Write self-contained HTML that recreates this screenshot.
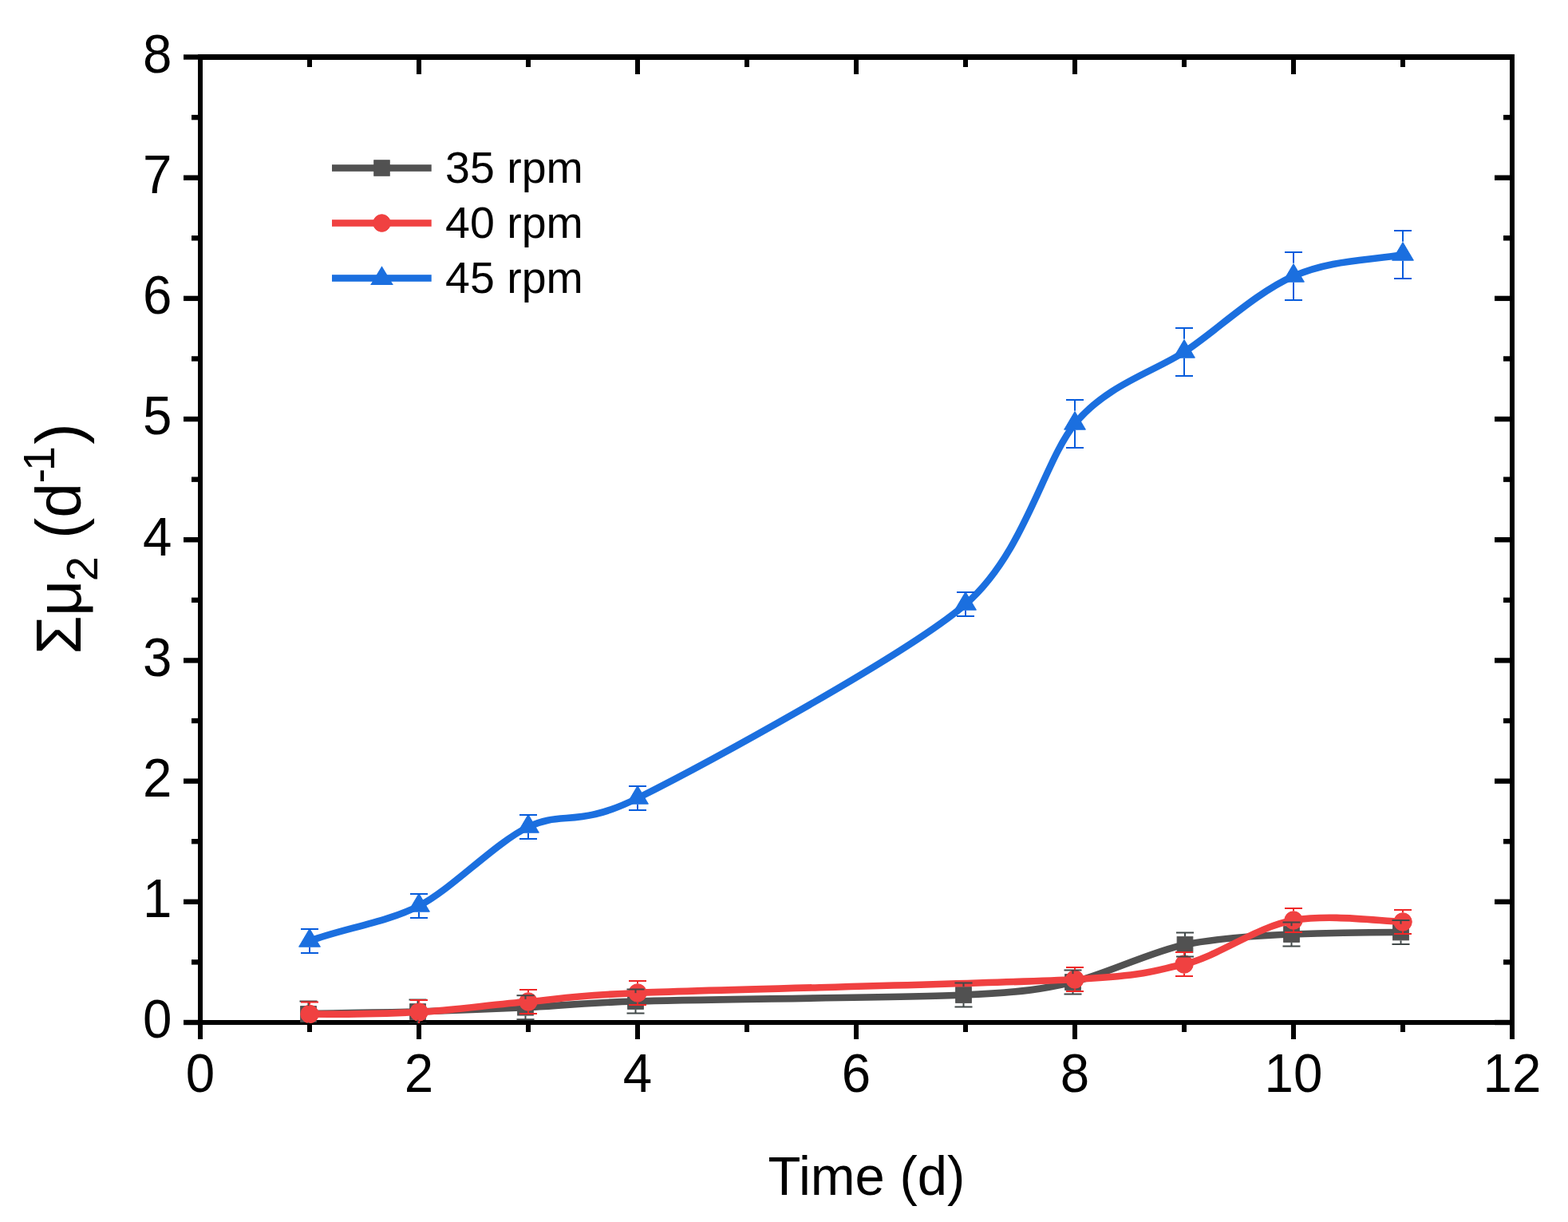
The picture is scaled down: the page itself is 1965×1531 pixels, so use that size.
<!DOCTYPE html>
<html><head><meta charset="utf-8"><title>Chart</title>
<style>html,body{margin:0;padding:0;background:#fff;width:1965px;height:1531px;overflow:hidden}svg{display:block}</style>
</head><body>
<svg width="1965" height="1531" viewBox="0 0 1965 1531"><rect x="0" y="0" width="1965" height="1531" fill="#fff"/>
<rect x="248" y="68" width="6" height="1216" fill="#000"/>
<rect x="1892" y="68" width="6" height="1216" fill="#000"/>
<rect x="248" y="68" width="1650" height="7" fill="#000"/>
<rect x="248" y="1278" width="1650" height="6" fill="#000"/>
<rect x="230" y="1277.80" width="18" height="6.4" fill="#000"/>
<rect x="1873" y="1277.80" width="19" height="6.4" fill="#000"/>
<rect x="240" y="1202.21" width="8" height="6.4" fill="#000"/>
<rect x="1884" y="1202.21" width="8" height="6.4" fill="#000"/>
<rect x="230" y="1126.61" width="18" height="6.4" fill="#000"/>
<rect x="1873" y="1126.61" width="19" height="6.4" fill="#000"/>
<rect x="240" y="1051.02" width="8" height="6.4" fill="#000"/>
<rect x="1884" y="1051.02" width="8" height="6.4" fill="#000"/>
<rect x="230" y="975.42" width="18" height="6.4" fill="#000"/>
<rect x="1873" y="975.42" width="19" height="6.4" fill="#000"/>
<rect x="240" y="899.83" width="8" height="6.4" fill="#000"/>
<rect x="1884" y="899.83" width="8" height="6.4" fill="#000"/>
<rect x="230" y="824.24" width="18" height="6.4" fill="#000"/>
<rect x="1873" y="824.24" width="19" height="6.4" fill="#000"/>
<rect x="240" y="748.64" width="8" height="6.4" fill="#000"/>
<rect x="1884" y="748.64" width="8" height="6.4" fill="#000"/>
<rect x="230" y="673.05" width="18" height="6.4" fill="#000"/>
<rect x="1873" y="673.05" width="19" height="6.4" fill="#000"/>
<rect x="240" y="597.46" width="8" height="6.4" fill="#000"/>
<rect x="1884" y="597.46" width="8" height="6.4" fill="#000"/>
<rect x="230" y="521.86" width="18" height="6.4" fill="#000"/>
<rect x="1873" y="521.86" width="19" height="6.4" fill="#000"/>
<rect x="240" y="446.27" width="8" height="6.4" fill="#000"/>
<rect x="1884" y="446.27" width="8" height="6.4" fill="#000"/>
<rect x="230" y="370.68" width="18" height="6.4" fill="#000"/>
<rect x="1873" y="370.68" width="19" height="6.4" fill="#000"/>
<rect x="240" y="295.08" width="8" height="6.4" fill="#000"/>
<rect x="1884" y="295.08" width="8" height="6.4" fill="#000"/>
<rect x="230" y="219.49" width="18" height="6.4" fill="#000"/>
<rect x="1873" y="219.49" width="19" height="6.4" fill="#000"/>
<rect x="240" y="143.89" width="8" height="6.4" fill="#000"/>
<rect x="1884" y="143.89" width="8" height="6.4" fill="#000"/>
<rect x="230" y="68.30" width="18" height="6.4" fill="#000"/>
<rect x="1873" y="68.30" width="19" height="6.4" fill="#000"/>
<rect x="248.00" y="1284" width="6" height="18" fill="#000"/>
<rect x="248.00" y="75" width="6" height="18" fill="#000"/>
<rect x="385.00" y="1284" width="6" height="9" fill="#000"/>
<rect x="385.00" y="75" width="6" height="9" fill="#000"/>
<rect x="522.00" y="1284" width="6" height="18" fill="#000"/>
<rect x="522.00" y="75" width="6" height="18" fill="#000"/>
<rect x="659.00" y="1284" width="6" height="9" fill="#000"/>
<rect x="659.00" y="75" width="6" height="9" fill="#000"/>
<rect x="796.00" y="1284" width="6" height="18" fill="#000"/>
<rect x="796.00" y="75" width="6" height="18" fill="#000"/>
<rect x="933.00" y="1284" width="6" height="9" fill="#000"/>
<rect x="933.00" y="75" width="6" height="9" fill="#000"/>
<rect x="1070.00" y="1284" width="6" height="18" fill="#000"/>
<rect x="1070.00" y="75" width="6" height="18" fill="#000"/>
<rect x="1207.00" y="1284" width="6" height="9" fill="#000"/>
<rect x="1207.00" y="75" width="6" height="9" fill="#000"/>
<rect x="1344.00" y="1284" width="6" height="18" fill="#000"/>
<rect x="1344.00" y="75" width="6" height="18" fill="#000"/>
<rect x="1481.00" y="1284" width="6" height="9" fill="#000"/>
<rect x="1481.00" y="75" width="6" height="9" fill="#000"/>
<rect x="1618.00" y="1284" width="6" height="18" fill="#000"/>
<rect x="1618.00" y="75" width="6" height="18" fill="#000"/>
<rect x="1755.00" y="1284" width="6" height="9" fill="#000"/>
<rect x="1755.00" y="75" width="6" height="9" fill="#000"/>
<rect x="1892.00" y="1284" width="6" height="18" fill="#000"/>
<rect x="1892.00" y="75" width="6" height="18" fill="#000"/>
<text transform="translate(215.4,1300.40) scale(1,1.053)" font-family="Liberation Sans, Arial, sans-serif" font-size="65.5" text-anchor="end">0</text>
<text transform="translate(215.4,1149.21) scale(1,1.053)" font-family="Liberation Sans, Arial, sans-serif" font-size="65.5" text-anchor="end">1</text>
<text transform="translate(215.4,998.02) scale(1,1.053)" font-family="Liberation Sans, Arial, sans-serif" font-size="65.5" text-anchor="end">2</text>
<text transform="translate(215.4,846.84) scale(1,1.053)" font-family="Liberation Sans, Arial, sans-serif" font-size="65.5" text-anchor="end">3</text>
<text transform="translate(215.4,695.65) scale(1,1.053)" font-family="Liberation Sans, Arial, sans-serif" font-size="65.5" text-anchor="end">4</text>
<text transform="translate(215.4,544.46) scale(1,1.053)" font-family="Liberation Sans, Arial, sans-serif" font-size="65.5" text-anchor="end">5</text>
<text transform="translate(215.4,393.27) scale(1,1.053)" font-family="Liberation Sans, Arial, sans-serif" font-size="65.5" text-anchor="end">6</text>
<text transform="translate(215.4,242.09) scale(1,1.053)" font-family="Liberation Sans, Arial, sans-serif" font-size="65.5" text-anchor="end">7</text>
<text transform="translate(215.4,90.90) scale(1,1.053)" font-family="Liberation Sans, Arial, sans-serif" font-size="65.5" text-anchor="end">8</text>
<text transform="translate(251.00,1368) scale(1,1.053)" font-family="Liberation Sans, Arial, sans-serif" font-size="65.5" text-anchor="middle">0</text>
<text transform="translate(525.00,1368) scale(1,1.053)" font-family="Liberation Sans, Arial, sans-serif" font-size="65.5" text-anchor="middle">2</text>
<text transform="translate(799.00,1368) scale(1,1.053)" font-family="Liberation Sans, Arial, sans-serif" font-size="65.5" text-anchor="middle">4</text>
<text transform="translate(1073.00,1368) scale(1,1.053)" font-family="Liberation Sans, Arial, sans-serif" font-size="65.5" text-anchor="middle">6</text>
<text transform="translate(1347.00,1368) scale(1,1.053)" font-family="Liberation Sans, Arial, sans-serif" font-size="65.5" text-anchor="middle">8</text>
<text transform="translate(1621.00,1368) scale(1,1.053)" font-family="Liberation Sans, Arial, sans-serif" font-size="65.5" text-anchor="middle">10</text>
<text transform="translate(1895.00,1368) scale(1,1.053)" font-family="Liberation Sans, Arial, sans-serif" font-size="65.5" text-anchor="middle">12</text>
<text transform="translate(962.5,1496.9) scale(1,1.031)" font-family="Liberation Sans, Arial, sans-serif" font-size="67">Time (d)</text>
<text transform="rotate(-90)" font-family="Liberation Sans, Arial, sans-serif"><tspan x="-819.93" y="100.90" font-size="79.0">Σ</tspan><tspan x="-771.97" y="100.90" font-size="79.0">μ</tspan><tspan x="-728.13" y="122.20" font-size="56.0">2</tspan><tspan font-size="79.0"> </tspan><tspan x="-675.01" y="100.90" font-size="79.0">(</tspan><tspan x="-648.83" y="100.90" font-size="79.0">d</tspan><tspan x="-605.54" y="67.90" font-size="56.0">-</tspan><tspan x="-590.32" y="67.90" font-size="56.0">1</tspan><tspan x="-556.66" y="100.90" font-size="79.0">)</tspan></text>
<defs><clipPath id="cp"><rect x="251" y="71.5" width="1644" height="1210.5"/></clipPath></defs>
<g clip-path="url(#cp)">
<path d="M386.50,1270.50 C424.98,1268.72 485.11,1268.74 523.50,1267.50 C561.89,1266.26 619.75,1263.83 658.50,1262.20 C697.25,1260.57 719.83,1256.96 796.50,1254.50 C873.17,1252.04 1130.27,1249.98 1207.50,1246.50 C1284.73,1243.02 1307.68,1238.98 1344.50,1230.50 C1381.32,1222.02 1445.24,1191.28 1485.00,1183.50 C1524.76,1175.72 1579.92,1172.00 1618.50,1170.50 C1657.08,1169.00 1716.83,1167.94 1755.50,1168.00" fill="none" stroke="#515151" stroke-width="8.6"/>
<rect x="376.65" y="1260.65" width="19.70" height="19.70" fill="#515151" stroke="#515151" stroke-width="1"/>
<rect x="513.65" y="1257.65" width="19.70" height="19.70" fill="#515151" stroke="#515151" stroke-width="1"/>
<rect x="648.65" y="1252.35" width="19.70" height="19.70" fill="#515151" stroke="#515151" stroke-width="1"/>
<rect x="786.65" y="1244.65" width="19.70" height="19.70" fill="#515151" stroke="#515151" stroke-width="1"/>
<rect x="1197.65" y="1236.65" width="19.70" height="19.70" fill="#515151" stroke="#515151" stroke-width="1"/>
<rect x="1334.65" y="1220.65" width="19.70" height="19.70" fill="#515151" stroke="#515151" stroke-width="1"/>
<rect x="1475.15" y="1173.65" width="19.70" height="19.70" fill="#515151" stroke="#515151" stroke-width="1"/>
<rect x="1608.65" y="1160.65" width="19.70" height="19.70" fill="#515151" stroke="#515151" stroke-width="1"/>
<rect x="1745.65" y="1158.15" width="19.70" height="19.70" fill="#515151" stroke="#515151" stroke-width="1"/>
<path d="M388.00,1270.50 C427.45,1271.00 485.03,1269.77 525.00,1268.00 C564.97,1266.23 622.11,1257.75 662.00,1255.00 C701.89,1252.25 701.04,1248.23 799.00,1244.00 C896.96,1239.77 1250.41,1232.38 1347.00,1227.00 C1443.59,1221.62 1445.15,1215.90 1484.00,1208.00 C1522.85,1200.10 1575.94,1160.30 1621.00,1153.00 C1666.06,1145.70 1718.92,1152.98 1758.00,1155.00" fill="none" stroke="#F04141" stroke-width="8.6"/>
<circle cx="388.00" cy="1270.50" r="11.25" fill="#F04141" stroke="#F04141" stroke-width="1"/>
<circle cx="525.00" cy="1268.00" r="11.25" fill="#F04141" stroke="#F04141" stroke-width="1"/>
<circle cx="662.00" cy="1255.00" r="11.25" fill="#F04141" stroke="#F04141" stroke-width="1"/>
<circle cx="799.00" cy="1244.00" r="11.25" fill="#F04141" stroke="#F04141" stroke-width="1"/>
<circle cx="1347.00" cy="1227.00" r="11.25" fill="#F04141" stroke="#F04141" stroke-width="1"/>
<circle cx="1484.00" cy="1208.00" r="11.25" fill="#F04141" stroke="#F04141" stroke-width="1"/>
<circle cx="1621.00" cy="1153.00" r="11.25" fill="#F04141" stroke="#F04141" stroke-width="1"/>
<circle cx="1758.00" cy="1155.00" r="11.25" fill="#F04141" stroke="#F04141" stroke-width="1"/>
<path d="M388.00,1179.00 C428.58,1163.72 484.49,1155.57 525.00,1135.00 C565.51,1114.43 619.76,1056.63 662.00,1036.00 C704.24,1015.37 723.82,1037.57 799.00,1000.00 C874.18,962.43 1135.85,821.22 1210.00,757.00 C1284.15,692.78 1307.40,579.49 1347.00,531.00 C1386.60,482.51 1445.29,466.08 1484.00,441.00 C1522.71,415.92 1573.30,366.77 1621.00,346.00 C1668.70,325.23 1714.67,326.61 1758.00,319.00" fill="none" stroke="#1B6FDF" stroke-width="8.6"/>
<polygon points="388.00,1163.50 401.40,1186.20 374.60,1186.20" fill="#1B6FDF" stroke="#1B6FDF" stroke-width="1"/>
<polygon points="525.00,1119.50 538.40,1142.20 511.60,1142.20" fill="#1B6FDF" stroke="#1B6FDF" stroke-width="1"/>
<polygon points="662.00,1020.50 675.40,1043.20 648.60,1043.20" fill="#1B6FDF" stroke="#1B6FDF" stroke-width="1"/>
<polygon points="799.00,984.50 812.40,1007.20 785.60,1007.20" fill="#1B6FDF" stroke="#1B6FDF" stroke-width="1"/>
<polygon points="1210.00,741.50 1223.40,764.20 1196.60,764.20" fill="#1B6FDF" stroke="#1B6FDF" stroke-width="1"/>
<polygon points="1347.00,515.50 1360.40,538.20 1333.60,538.20" fill="#1B6FDF" stroke="#1B6FDF" stroke-width="1"/>
<polygon points="1484.00,425.50 1497.40,448.20 1470.60,448.20" fill="#1B6FDF" stroke="#1B6FDF" stroke-width="1"/>
<polygon points="1621.00,330.50 1634.40,353.20 1607.60,353.20" fill="#1B6FDF" stroke="#1B6FDF" stroke-width="1"/>
<polygon points="1758.00,303.50 1771.40,326.20 1744.60,326.20" fill="#1B6FDF" stroke="#1B6FDF" stroke-width="1"/>
<rect x="385.50" y="1254.50" width="2" height="5.65" fill="#414949"/><rect x="385.50" y="1280.85" width="2" height="5.65" fill="#414949"/><rect x="375.50" y="1253.50" width="22" height="2" fill="#414949"/><rect x="375.50" y="1285.50" width="22" height="2" fill="#414949"/>
<rect x="522.50" y="1252.50" width="2" height="4.65" fill="#414949"/><rect x="522.50" y="1277.85" width="2" height="4.65" fill="#414949"/><rect x="512.50" y="1251.50" width="22" height="2" fill="#414949"/><rect x="512.50" y="1281.50" width="22" height="2" fill="#414949"/>
<rect x="657.50" y="1247.20" width="2" height="4.65" fill="#414949"/><rect x="657.50" y="1272.55" width="2" height="4.65" fill="#414949"/><rect x="647.50" y="1246.20" width="22" height="2" fill="#414949"/><rect x="647.50" y="1276.20" width="22" height="2" fill="#414949"/>
<rect x="795.50" y="1239.50" width="2" height="4.65" fill="#414949"/><rect x="795.50" y="1264.85" width="2" height="4.65" fill="#414949"/><rect x="785.50" y="1238.50" width="22" height="2" fill="#414949"/><rect x="785.50" y="1268.50" width="22" height="2" fill="#414949"/>
<rect x="1206.50" y="1231.50" width="2" height="4.65" fill="#414949"/><rect x="1206.50" y="1256.85" width="2" height="4.65" fill="#414949"/><rect x="1196.50" y="1230.50" width="22" height="2" fill="#414949"/><rect x="1196.50" y="1260.50" width="22" height="2" fill="#414949"/>
<rect x="1343.50" y="1215.50" width="2" height="4.65" fill="#414949"/><rect x="1343.50" y="1240.85" width="2" height="4.65" fill="#414949"/><rect x="1333.50" y="1214.50" width="22" height="2" fill="#414949"/><rect x="1333.50" y="1244.50" width="22" height="2" fill="#414949"/>
<rect x="1484.00" y="1168.50" width="2" height="4.65" fill="#414949"/><rect x="1484.00" y="1193.85" width="2" height="4.65" fill="#414949"/><rect x="1474.00" y="1167.50" width="22" height="2" fill="#414949"/><rect x="1474.00" y="1197.50" width="22" height="2" fill="#414949"/>
<rect x="1617.50" y="1155.50" width="2" height="4.65" fill="#414949"/><rect x="1617.50" y="1180.85" width="2" height="4.65" fill="#414949"/><rect x="1607.50" y="1154.50" width="22" height="2" fill="#414949"/><rect x="1607.50" y="1184.50" width="22" height="2" fill="#414949"/>
<rect x="1754.50" y="1153.00" width="2" height="4.65" fill="#414949"/><rect x="1754.50" y="1178.35" width="2" height="4.65" fill="#414949"/><rect x="1744.50" y="1152.00" width="22" height="2" fill="#414949"/><rect x="1744.50" y="1182.00" width="22" height="2" fill="#414949"/>
<rect x="387.00" y="1255.50" width="2" height="3.25" fill="#EE2828"/><rect x="387.00" y="1282.25" width="2" height="3.25" fill="#EE2828"/><rect x="377.00" y="1254.50" width="22" height="2" fill="#EE2828"/><rect x="377.00" y="1284.50" width="22" height="2" fill="#EE2828"/>
<rect x="524.00" y="1253.00" width="2" height="3.25" fill="#EE2828"/><rect x="524.00" y="1279.75" width="2" height="3.25" fill="#EE2828"/><rect x="514.00" y="1252.00" width="22" height="2" fill="#EE2828"/><rect x="514.00" y="1282.00" width="22" height="2" fill="#EE2828"/>
<rect x="661.00" y="1240.00" width="2" height="3.25" fill="#EE2828"/><rect x="661.00" y="1266.75" width="2" height="3.25" fill="#EE2828"/><rect x="651.00" y="1239.00" width="22" height="2" fill="#EE2828"/><rect x="651.00" y="1269.00" width="22" height="2" fill="#EE2828"/>
<rect x="798.00" y="1229.00" width="2" height="3.25" fill="#EE2828"/><rect x="798.00" y="1255.75" width="2" height="3.25" fill="#EE2828"/><rect x="788.00" y="1228.00" width="22" height="2" fill="#EE2828"/><rect x="788.00" y="1258.00" width="22" height="2" fill="#EE2828"/>
<rect x="1346.00" y="1212.00" width="2" height="3.25" fill="#EE2828"/><rect x="1346.00" y="1238.75" width="2" height="3.25" fill="#EE2828"/><rect x="1336.00" y="1211.00" width="22" height="2" fill="#EE2828"/><rect x="1336.00" y="1241.00" width="22" height="2" fill="#EE2828"/>
<rect x="1483.00" y="1193.00" width="2" height="3.25" fill="#EE2828"/><rect x="1483.00" y="1219.75" width="2" height="3.25" fill="#EE2828"/><rect x="1473.00" y="1192.00" width="22" height="2" fill="#EE2828"/><rect x="1473.00" y="1222.00" width="22" height="2" fill="#EE2828"/>
<rect x="1620.00" y="1138.00" width="2" height="3.25" fill="#EE2828"/><rect x="1620.00" y="1164.75" width="2" height="3.25" fill="#EE2828"/><rect x="1610.00" y="1137.00" width="22" height="2" fill="#EE2828"/><rect x="1610.00" y="1167.00" width="22" height="2" fill="#EE2828"/>
<rect x="1757.00" y="1140.00" width="2" height="3.25" fill="#EE2828"/><rect x="1757.00" y="1166.75" width="2" height="3.25" fill="#EE2828"/><rect x="1747.00" y="1139.00" width="22" height="2" fill="#EE2828"/><rect x="1747.00" y="1169.00" width="22" height="2" fill="#EE2828"/>
<rect x="387.00" y="1164.00" width="2" height="0.00" fill="#065CDC"/><rect x="387.00" y="1186.70" width="2" height="7.30" fill="#065CDC"/><rect x="377.00" y="1163.00" width="22" height="2" fill="#065CDC"/><rect x="377.00" y="1193.00" width="22" height="2" fill="#065CDC"/>
<rect x="524.00" y="1120.00" width="2" height="0.00" fill="#065CDC"/><rect x="524.00" y="1142.70" width="2" height="7.30" fill="#065CDC"/><rect x="514.00" y="1119.00" width="22" height="2" fill="#065CDC"/><rect x="514.00" y="1149.00" width="22" height="2" fill="#065CDC"/>
<rect x="661.00" y="1021.00" width="2" height="0.00" fill="#065CDC"/><rect x="661.00" y="1043.70" width="2" height="7.30" fill="#065CDC"/><rect x="651.00" y="1020.00" width="22" height="2" fill="#065CDC"/><rect x="651.00" y="1050.00" width="22" height="2" fill="#065CDC"/>
<rect x="798.00" y="985.00" width="2" height="0.00" fill="#065CDC"/><rect x="798.00" y="1007.70" width="2" height="7.30" fill="#065CDC"/><rect x="788.00" y="984.00" width="22" height="2" fill="#065CDC"/><rect x="788.00" y="1014.00" width="22" height="2" fill="#065CDC"/>
<rect x="1209.00" y="742.00" width="2" height="0.00" fill="#065CDC"/><rect x="1209.00" y="764.70" width="2" height="7.30" fill="#065CDC"/><rect x="1199.00" y="741.00" width="22" height="2" fill="#065CDC"/><rect x="1199.00" y="771.00" width="22" height="2" fill="#065CDC"/>
<rect x="1346.00" y="501.00" width="2" height="13.70" fill="#065CDC"/><rect x="1346.00" y="538.70" width="2" height="22.30" fill="#065CDC"/><rect x="1336.00" y="500.00" width="22" height="2" fill="#065CDC"/><rect x="1336.00" y="560.00" width="22" height="2" fill="#065CDC"/>
<rect x="1483.00" y="411.00" width="2" height="13.70" fill="#065CDC"/><rect x="1483.00" y="448.70" width="2" height="22.30" fill="#065CDC"/><rect x="1473.00" y="410.00" width="22" height="2" fill="#065CDC"/><rect x="1473.00" y="470.00" width="22" height="2" fill="#065CDC"/>
<rect x="1620.00" y="316.00" width="2" height="13.70" fill="#065CDC"/><rect x="1620.00" y="353.70" width="2" height="22.30" fill="#065CDC"/><rect x="1610.00" y="315.00" width="22" height="2" fill="#065CDC"/><rect x="1610.00" y="375.00" width="22" height="2" fill="#065CDC"/>
<rect x="1757.00" y="289.00" width="2" height="13.70" fill="#065CDC"/><rect x="1757.00" y="326.70" width="2" height="22.30" fill="#065CDC"/><rect x="1747.00" y="288.00" width="22" height="2" fill="#065CDC"/><rect x="1747.00" y="348.00" width="22" height="2" fill="#065CDC"/>
</g>
<rect x="416" y="206.20" width="124.7" height="8.6" fill="#515151"/>
<rect x="468.75" y="200.75" width="19.50" height="19.50" fill="#515151" stroke="#515151" stroke-width="1"/>
<text x="558.1" y="229.40" font-family="Liberation Sans, Arial, sans-serif" font-size="55.5">35 rpm</text>
<rect x="416" y="275.20" width="124.7" height="8.6" fill="#F04141"/>
<circle cx="478.50" cy="279.50" r="10.80" fill="#F04141" stroke="#F04141" stroke-width="1"/>
<text x="558.1" y="298.40" font-family="Liberation Sans, Arial, sans-serif" font-size="55.5">40 rpm</text>
<rect x="416" y="344.20" width="124.7" height="8.6" fill="#1B6FDF"/>
<polygon points="478.5,333.20 492.90,356.90 464.10,356.90" fill="#1B6FDF"/>
<text x="558.1" y="367.40" font-family="Liberation Sans, Arial, sans-serif" font-size="55.5">45 rpm</text></svg>
</body></html>
